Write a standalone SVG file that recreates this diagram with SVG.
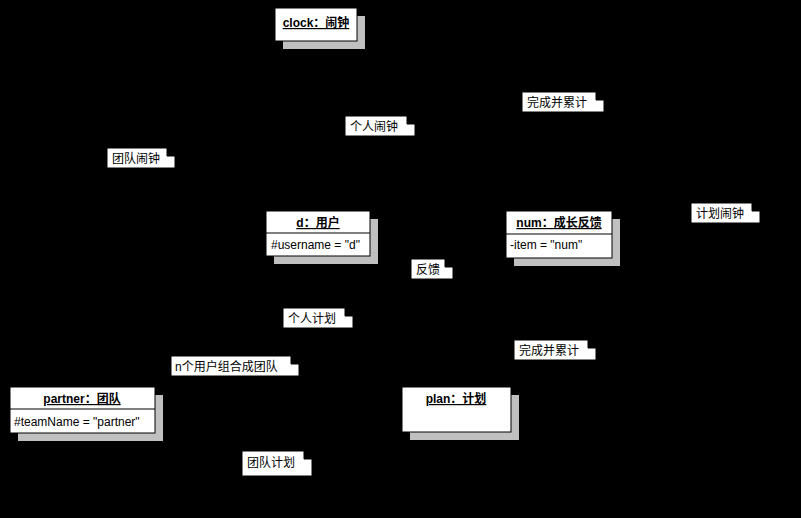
<svg xmlns="http://www.w3.org/2000/svg" width="801" height="518" viewBox="0 0 801 518">
<style>
.sh{fill:#c0c0c0}
.bx{fill:#fff;stroke:#000;stroke-width:1}
.t{font-family:"Liberation Sans","Noto Sans CJK SC",sans-serif;font-size:12px;fill:#000}
.b{font-weight:bold;text-decoration:underline}
.c{stroke:#000;fill:none;stroke-width:1}
</style>
<rect width="801" height="518" fill="#000"/>
<g id="connectors">
<path class="c" d="M300 211 L310 41"/><path class="c" d="M340 211 L340 41"/>
<path class="c" d="M80 387 L290 41"/><path class="c" d="M540 258 L357 25"/>
<path class="c" d="M456 387 L357 30"/><path class="c" d="M370 240 L506 240"/>
<path class="c" d="M318 256 L430 387"/><path class="c" d="M155 410 L402 410"/>
<path class="c" d="M290 256 L100 387"/><path class="c" d="M540 258 L470 387"/>
</g>
<g id="clock"><rect class="sh" x="283" y="16" width="82" height="33"/><rect class="bx" x="275" y="8" width="82" height="33"/><text class="t b" x="316" y="27" text-anchor="middle">clock：闹钟</text></g>
<g id="d"><rect class="sh" x="274" y="219" width="104" height="45"/><rect class="bx" x="266" y="211" width="104" height="45"/><line class="c" x1="266" y1="233" x2="370" y2="233"/><text class="t b" x="318" y="227" text-anchor="middle">d：用户</text><text class="t" x="271" y="249">#username = "d"</text></g>
<g id="num"><rect class="sh" x="514" y="219" width="106" height="47"/><rect class="bx" x="506" y="211" width="106" height="47"/><line class="c" x1="506" y1="234" x2="612" y2="234"/><text class="t b" x="559" y="227" text-anchor="middle">num：成长反馈</text><text class="t" x="510" y="249">-item = "num"</text></g>
<g id="partner"><rect class="sh" x="18" y="395" width="145" height="46"/><rect class="bx" x="10" y="387" width="145" height="46"/><line class="c" x1="10" y1="409" x2="155" y2="409"/><text class="t b" x="82" y="403" text-anchor="middle">partner：团队</text><text class="t" x="14" y="426">#teamName = "partner"</text></g>
<g id="plan"><rect class="sh" x="410" y="395" width="109" height="45"/><rect class="bx" x="402" y="387" width="109" height="45"/><text class="t b" x="456" y="403" text-anchor="middle">plan：计划</text></g>
<g id="notes">
<g id="n1"><path class="bx" d="M522 92 H596 L604 100 V112 H522 Z M596 92 V100 H604"/><text class="t" x="527" y="107">完成并累计</text></g>
<g id="n2"><path class="bx" d="M345 116 H407 L415 124 V136 H345 Z M407 116 V124 H415"/><text class="t" x="350" y="131">个人闹钟</text></g>
<g id="n3"><path class="bx" d="M107 148 H167 L175 156 V168 H107 Z M167 148 V156 H175"/><text class="t" x="112" y="163">团队闹钟</text></g>
<g id="n4"><path class="bx" d="M691 203 H752 L760 211 V223 H691 Z M752 203 V211 H760"/><text class="t" x="696" y="218">计划闹钟</text></g>
<g id="n5"><path class="bx" d="M411 259 H445 L453 267 V279 H411 Z M445 259 V267 H453"/><text class="t" x="416" y="274">反馈</text></g>
<g id="n6"><path class="bx" d="M283 308 H345 L353 316 V328 H283 Z M345 308 V316 H353"/><text class="t" x="288" y="323">个人计划</text></g>
<g id="n7"><path class="bx" d="M514 340 H588 L596 348 V360 H514 Z M588 340 V348 H596"/><text class="t" x="519" y="355">完成并累计</text></g>
<g id="n8"><path class="bx" d="M171 356 H291 L299 364 V376 H171 Z M291 356 V364 H299"/><text class="t" x="175" y="371">n个用户组合成团队</text></g>
<g id="n9"><path class="bx" d="M242 451 H304 L312 459 V476 H242 Z M304 451 V459 H312"/><text class="t" x="247" y="467">团队计划</text></g>
</g>
</svg>
